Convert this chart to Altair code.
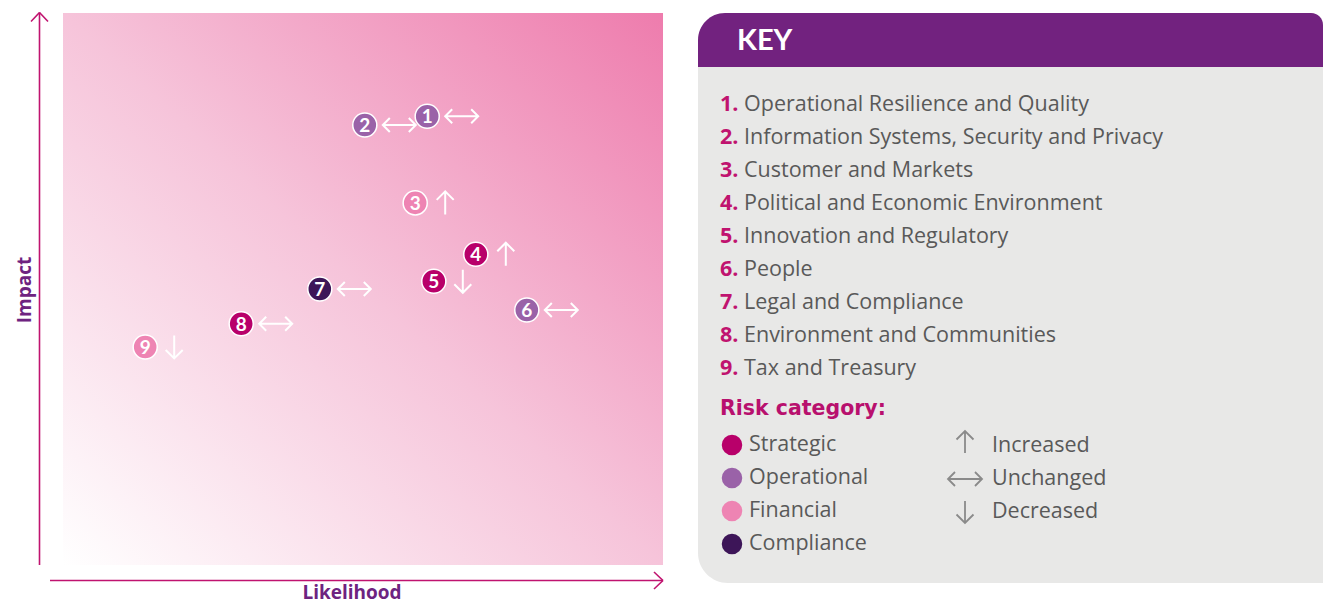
import altair as alt
import pandas as pd

# ---------------- data ----------------
ids = [1, 2, 3, 4, 5, 6, 7, 8, 9]
names = [
    "Operational Resilience and Quality",
    "Information Systems, Security and Privacy",
    "Customer and Markets",
    "Political and Economic Environment",
    "Innovation and Regulatory",
    "People",
    "Legal and Compliance",
    "Environment and Communities",
    "Tax and Treasury",
]
likelihood = [6.07, 5.03, 5.87, 6.88, 6.18, 7.73, 4.28, 2.97, 1.37]
impact = [8.13, 7.97, 6.56, 5.63, 5.14, 4.62, 5.00, 4.37, 3.95]
category = ["Operational", "Operational", "Financial", "Strategic", "Strategic",
            "Operational", "Compliance", "Strategic", "Financial"]
change = ["Unchanged", "Unchanged", "Increased", "Increased", "Decreased",
          "Unchanged", "Unchanged", "Unchanged", "Decreased"]

categories = ["Strategic", "Operational", "Financial", "Compliance"]
cat_colors = ["#B8006A", "#9A62A8", "#EE84B3", "#3D1558"]
changes = ["Increased", "Unchanged", "Decreased"]

risks = pd.DataFrame({
    "id": ids, "label": [str(i) for i in ids], "num": [f"{i}." for i in ids],
    "name": names, "likelihood": likelihood, "impact": impact,
    "category": category, "change": change,
})
cats = pd.DataFrame({"category": categories, "order": [1, 2, 3, 4]})
chg = pd.DataFrame({"change": changes, "order": [1, 2, 3]})

# ---------------- styles ----------------
MAGENTA = "#C0136F"
PURPLE = "#6E2380"
GREY_TXT = "#595959"
ONE = alt.Data(values=[{}])

xs = alt.Scale(domain=[0, 10], range=[55, 655], nice=False, zero=False)
ys = alt.Scale(domain=[0, 10], range=[557, 5], nice=False, zero=False)
colscale = alt.Scale(domain=categories, range=cat_colors)

# arrow shapes (units of 10px, relative to circle centre)
p_up = "M3.0,-1.15L3.0,1.15M2.15,-0.3L3.0,-1.15L3.85,-0.3"
p_lr = "M1.8,0L5.1,0M2.5,-0.7L1.8,0L2.5,0.7M4.4,-0.7L5.1,0L4.4,0.7"
p_dn = "M2.9,-1.15L2.9,1.15M2.05,0.3L2.9,1.15L3.75,0.3"
# legend arrows (centred)
l_up = "M0,-1.5L0,0.7M-0.85,-0.65L0,-1.5L0.85,-0.65"
l_lr = "M-1.7,0L1.7,0M-1.0,-0.7L-1.7,0L-1.0,0.7M1.0,-0.7L1.7,0L1.0,0.7"
l_dn = "M0,-1.1L0,1.1M-0.85,0.25L0,1.1L0.85,0.25"


def seg(x1, y1, x2, y2, color=MAGENTA, w=1.6):
    return alt.Chart(ONE).mark_rule(color=color, strokeWidth=w).encode(
        x=alt.value(x1), y=alt.value(y1), x2=alt.value(x2), y2=alt.value(y2))


# ---------------- plot area ----------------
grad = alt.LinearGradient(
    gradient="linear", x1=0, y1=1, x2=1, y2=0,
    stops=[alt.GradientStop(color="#FFFFFF", offset=0),
           alt.GradientStop(color="#F6C4DA", offset=0.5),
           alt.GradientStop(color="#EE7CAD", offset=1)])
bg = alt.Chart(ONE).mark_rect(fill=grad).encode(
    x=alt.value(55), x2=alt.value(655), y=alt.value(5), y2=alt.value(557))

axes = [
    seg(31.5, 557, 31.5, 4.5), seg(23, 13.5, 31.5, 4.5), seg(40, 13.5, 31.5, 4.5),
    seg(42, 572.5, 655, 572.5), seg(646, 564, 655, 572.5), seg(646, 581, 655, 572.5),
]

impact_t = alt.Chart(ONE).mark_text(
    text="Impact", angle=270, font="Open Sans", fontWeight="bold", fontSize=19,
    color=PURPLE, baseline="middle", align="center").encode(
    x=alt.value(17), y=alt.value(282))
like_t = alt.Chart(ONE).mark_text(
    text="Likelihood", font="Open Sans", fontWeight="bold", fontSize=19,
    color=PURPLE, baseline="top", align="center").encode(
    x=alt.value(344), y=alt.value(576))

base = alt.Chart(risks)
arrows = base.mark_point(filled=False, stroke="white", strokeWidth=2, opacity=1,
                         size=400).encode(
    x=alt.X("likelihood:Q", scale=xs, axis=None),
    y=alt.Y("impact:Q", scale=ys, axis=None),
    shape=alt.Shape("change:N", scale=alt.Scale(domain=changes, range=[p_up, p_lr, p_dn]),
                    legend=None))
dots = base.mark_circle(size=580, opacity=1, stroke="white", strokeWidth=1.5).encode(
    x=alt.X("likelihood:Q", scale=xs, axis=None),
    y=alt.Y("impact:Q", scale=ys, axis=None),
    color=alt.Color("category:N", scale=colscale, legend=None))
nums = base.mark_text(font="Lato", fontWeight="bold", fontSize=19, color="white",
                      baseline="middle", align="center", dy=1).encode(
    x=alt.X("likelihood:Q", scale=xs, axis=None),
    y=alt.Y("impact:Q", scale=ys, axis=None),
    text="label:N")

# ---------------- key panel ----------------
panel = alt.Chart(ONE).mark_rect(
    color="#E8E8E7", cornerRadiusTopLeft=28, cornerRadiusBottomLeft=30,
    cornerRadiusTopRight=12).encode(
    x=alt.value(690), x2=alt.value(1315), y=alt.value(5), y2=alt.value(575))
header = alt.Chart(ONE).mark_rect(
    color="#72227F", cornerRadiusTopLeft=28, cornerRadiusTopRight=12).encode(
    x=alt.value(690), x2=alt.value(1315), y=alt.value(5), y2=alt.value(59))
key_t = alt.Chart(ONE).mark_text(
    text="KEY", font="Lato", fontWeight="bold", fontSize=29, color="white",
    baseline="middle", align="left").encode(x=alt.value(729), y=alt.value(33))

ky = alt.Scale(domain=[1, 9], range=[97, 361], nice=False, zero=False)
kbase = alt.Chart(risks)
key_num = kbase.mark_text(font="Open Sans", fontWeight="bold", fontSize=21.5,
                          color=MAGENTA, baseline="middle", align="left").encode(
    x=alt.value(712), y=alt.Y("id:Q", scale=ky, axis=None), text="num:N")
key_name = kbase.mark_text(font="Open Sans", fontSize=21.5, color=GREY_TXT,
                           baseline="middle", align="left").encode(
    x=alt.value(736), y=alt.Y("id:Q", scale=ky, axis=None), text="name:N")

risk_t = alt.Chart(ONE).mark_text(
    text="Risk category:", font="DejaVu Sans", fontWeight="bold", fontSize=20.5,
    color="#B8106E", baseline="middle", align="left").encode(
    x=alt.value(712), y=alt.value(401))

cy = alt.Scale(domain=[1, 4], range=[437, 536], nice=False, zero=False)
cbase = alt.Chart(cats)
cat_dots = cbase.mark_circle(size=420, opacity=1).encode(
    x=alt.value(724), y=alt.Y("order:Q", scale=cy, axis=None),
    color=alt.Color("category:N", scale=colscale, legend=None))
cat_lbl = cbase.mark_text(font="Open Sans", fontSize=21.5, color=GREY_TXT,
                          baseline="middle", align="left").encode(
    x=alt.value(741), y=alt.Y("order:Q", scale=cy, axis=None), text="category:N")

gy = alt.Scale(domain=[1, 3], range=[438, 504], nice=False, zero=False)
gbase = alt.Chart(chg)
chg_arrows = gbase.mark_point(filled=False, stroke="#8A8A8A", strokeWidth=1.8,
                              opacity=1, size=400).encode(
    x=alt.value(957), y=alt.Y("order:Q", scale=gy, axis=None),
    shape=alt.Shape("change:N", scale=alt.Scale(domain=changes, range=[l_up, l_lr, l_dn]),
                    legend=None))
chg_lbl = gbase.mark_text(font="Open Sans", fontSize=21.5, color=GREY_TXT,
                          baseline="middle", align="left").encode(
    x=alt.value(984), y=alt.Y("order:Q", scale=gy, axis=None), text="change:N")

chart = alt.layer(
    bg, *axes, impact_t, like_t, arrows, dots, nums,
    panel, header, key_t, key_num, key_name, risk_t,
    cat_dots, cat_lbl, chg_arrows, chg_lbl,
).resolve_scale(
    x="independent", y="independent", color="independent", shape="independent"
).properties(
    width=1315, height=593, padding=0,
    autosize=alt.AutoSizeParams(type="none"),
    background="white",
).configure_view(stroke=None)

chart.save("out.html", embed_options={"renderer": "svg", "actions": False})
